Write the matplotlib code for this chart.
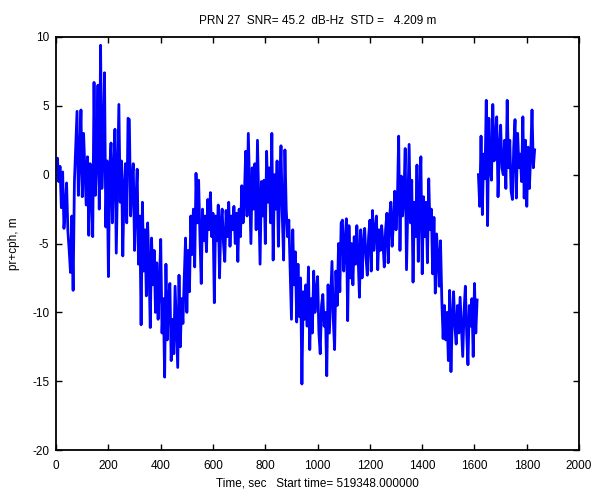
import numpy as np
import matplotlib
matplotlib.use("Agg")
import matplotlib.pyplot as plt

# values, one every 5 s
STEP = 5
pr_first = [
    0.8, 1.2, -0.5, 0.6, -2.4, 0.2, -3.9, -2.5, -0.6, -4.1,
    -5.5, -7.1, -3.0, -8.4, -0.5, 2.0, 4.6, -1.5, 1.2, 4.7,
    -1.6, 3.0, 0.5, -2.2, 1.3, -4.4, 0.8, -1.0, -4.5, 6.7,
    -1.5, 1.2, 6.5, -2.5, 9.4, -1.0, 2.0, 7.4, -3.8, 1.0,
    -7.4, 0.5, 2.3, -3.5, 0.2, 3.3, -5.7, -0.5, 5.1, -2.0,
    1.0, -5.9, -1.0, 0.8, -3.5, 4.1, 4.0, -3.0, -0.5, 0.8,
    -5.5, -2.0, 0.4, -6.5, -3.0, -10.9, -2.0, -7.0, -4.0, -8.8,
    -3.5, -6.5, -11.1, -4.6, -8.0, -5.5, -10.0, -6.4, -10.5, -8.0,
    -4.7, -11.5, -9.0, -14.7, -6.5, -12.0, -9.0, -7.9, -13.5, -10.5,
    -13.0, -8.1, -11.0, -14.0, -7.3, -12.5, -9.0, -10.8, -7.5, -4.6,
    -10.0, -5.5, -8.5, -3.0, -5.8, -2.5, -6.7, 0.1, -3.5, -0.4,
    -4.5, -7.9, -2.5, -4.8, -3.0, -5.6, -1.8, -4.0, -1.3, -4.5,
    -2.8, -9.3, -3.0, -4.8, -2.2, -7.5, -3.5, -2.5, -5.0, -6.3,
    -2.6, -4.5, -2.0, -5.2, -3.0, -4.0, -2.3, -5.0, -2.8, -6.3,
    -2.5, -4.5, -0.8, -3.5, -1.5, 1.7, -3.0, 3.0, -1.0, -5.0,
    0.5, -2.5, 0.8, -4.0, 2.5, -2.0, -6.5, -0.5, -3.0, -0.4,
    -5.0, 1.7, -2.0, 0.5, -3.5, 3.0, -6.2, 0.0, -2.5, 1.0,
    -5.2, -1.0, 2.1, -3.0, -6.2, 1.8, -2.5, -4.5, -3.3, -7.0,
    -10.5, -4.0, -8.0, -5.6, -10.7, -6.5, -10.3, -7.5, -15.2, -8.5,
    -10.5, -8.0, -11.0, -6.7, -12.7, -9.0, -11.5, -7.0, -10.0, -8.5,
    -7.4, -11.5, -13.0, -9.5, -8.7, -11.0, -10.0, -14.6, -8.0, -11.5,
    -9.0, -6.3, -10.5, -12.7, -7.0, -9.5, -5.0, -8.5, -3.5, -3.3,
    -7.0, -5.0, -3.2, -10.6, -3.7, -7.5, -5.0, -8.0, -4.5, -6.5,
    -3.7, -6.0, -8.9, -4.0, -7.5, -5.0, -3.9, -6.0, -7.3, -4.5,
    -3.3, -7.0, -2.6, -5.5, -4.0, -3.0, -6.9, -4.0, -5.5, -3.7,
    -5.0, -6.7, -4.0, -2.8, -6.4, -3.1, -2.0, -5.2, -3.5, -1.2,
    -4.0, -2.0, 2.8, -5.5, -0.1, -3.0, -1.5, 1.9, -6.9, -2.5,
    2.2, -3.5, -0.4, -7.8, -2.0, -4.5, 0.7, -6.3, -1.6, 1.3,
    -7.2, -1.6, -4.5, -2.0, -6.4, -0.3, -4.0, -2.5, -7.2, -3.1,
    -8.6, -4.3, -6.0, -8.1, -4.8, -9.1, -11.9, -9.5, -12.0, -10.0,
    -13.5, -8.4, -14.3, -10.5, -8.5, -11.0, -12.3, -9.5, -11.5, -8.9,
    -11.0, -13.2, -10.0, -8.1, -11.5, -13.8, -9.5, -11.0, -9.0, -13.2,
    -7.9, -11.5, -9.1,
]
t_second_start = 1615
pr_second = [
    0.0, -2.3, 2.8, -2.9, 1.5, -0.3, 5.4, -3.7, 4.1, 0.5,
    -0.4, 5.1, 1.0, 2.5, 4.2, -1.6, 1.8, 3.6, 0.5, 0.0,
    2.5, -1.0, 5.4, 0.5, 2.5, -1.2, -1.8, 2.0, 4.0, -1.7,
    3.0, 0.5, 1.5, -0.5, 4.2, -1.7, 2.5, -2.3, 2.0, -1.0,
    1.5, 4.7, 0.5, 1.8,
]

title = "PRN 27  SNR= 45.2  dB-Hz  STD =   4.209 m"
xlab = "Time, sec   Start time= 519348.000000"
ylab = "pr+cph, m"

plt.rcParams["font.family"] = ["Liberation Sans", "DejaVu Sans"]
plt.rcParams["font.size"] = 8.5
plt.rcParams["axes.unicode_minus"] = False

t1 = np.arange(len(pr_first)) * STEP
t2 = t_second_start + np.arange(len(pr_second)) * STEP

fig = plt.figure(figsize=(5.97, 4.93), dpi=100)
ax = fig.add_axes([0.094, 0.087, 0.876, 0.838])
ax.plot(t1, pr_first, color="#0000ff", linewidth=2.0)
ax.plot(t2, pr_second, color="#0000ff", linewidth=2.0)

ax.set_xlim(0, 2000)
ax.set_ylim(-20, 10)
ax.set_xticks(np.arange(0, 2001, 200))
ax.set_yticks(np.arange(-20, 11, 5))
ax.tick_params(direction="in", top=True, right=True, length=4, width=1,
               labelsize=8.5, pad=5)
ax.tick_params(axis="x", pad=7)
for s in ax.spines.values():
    s.set_linewidth(1.3)

ax.set_title(title, fontsize=8.5, pad=9)
ax.set_xlabel(xlab, fontsize=8.5, labelpad=4)
ax.set_ylabel(ylab, fontsize=8.5, labelpad=9)

fig.savefig("out.png", dpi=100)
